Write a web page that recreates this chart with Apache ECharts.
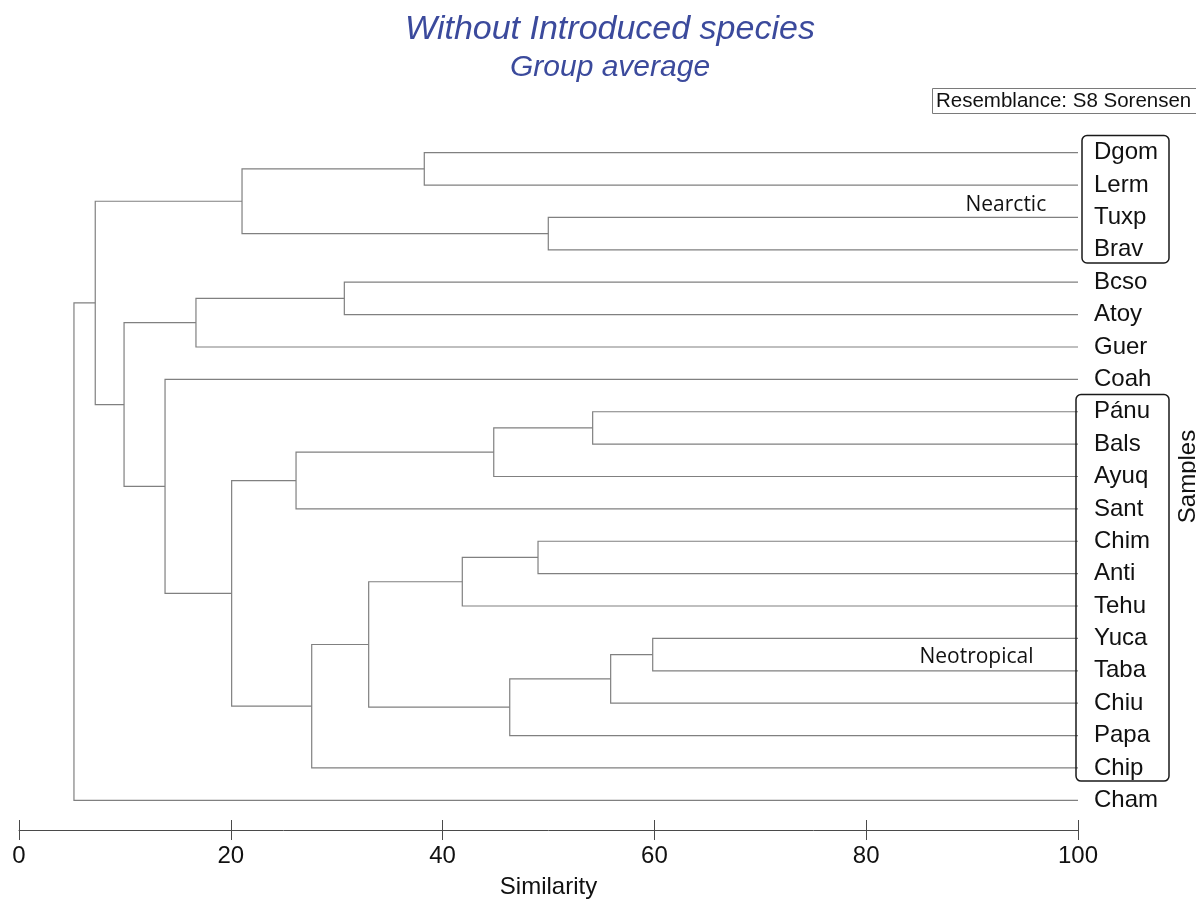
<!DOCTYPE html>
<html>
<head>
<meta charset="utf-8">
<script src="https://cdn.jsdelivr.net/npm/echarts@6/dist/echarts.min.js"></script>
<style>
html,body{margin:0;padding:0;background:#fff;}
#chart{width:1196px;height:900px;}
</style>
</head>
<body>
<div id="chart"></div>
<script>
// ---- data ----
const leaves = ['Dgom','Lerm','Tuxp','Brav','Bcso','Atoy','Guer','Coah','Pánu','Bals','Ayuq','Sant','Chim','Anti','Tehu','Yuca','Taba','Chiu','Papa','Chip','Cham'];
// merges: child A, child B ("m<i>" refers to an earlier merge), similarity at merge
const mergeA   = ['Dgom','Tuxp','m0','Bcso','m3','Pánu','m5','m6','Chim','m8','Yuca','m10','m11','m9','m13','m7','Coah','m4','m2','m18'];
const mergeB   = ['Lerm','Brav','m1','Atoy','Guer','Bals','Ayuq','Sant','Anti','Tehu','Taba','Chiu','Papa','m12','Chip','m14','m15','m16','m17','Cham'];
const mergeSim = [38.27, 49.98, 21.06, 30.72, 16.71, 54.17, 44.83, 26.16, 49.01, 41.86, 59.84, 55.87, 46.34, 33.02, 27.64, 20.08, 13.79, 9.92, 7.20, 5.19];
const xTicks = [0, 20, 40, 60, 80, 100];
const groupNames = ['Nearctic', 'Neotropical'];
const groupFrom = ['Dgom', 'Pánu'];
const groupTo   = ['Brav', 'Chip'];

// ---- styles (not data) ----
const groupStyle = [
  {boxDx: 4, labelX: 97.0, labelRow: 1.5, labelDy: 4},
  {boxDx: -2, labelX: 95.8, labelRow: 15.5, labelDy: 2}
];
const LINE = '#808080';
const AXIS = '#4a4a4a';
const FONT = '"Liberation Sans", Arial, sans-serif';

// ---- layout of tree from data ----
const nodePos = {};
leaves.forEach((n, i) => { nodePos[n] = {h: 100, y: i}; });
const segData = [];
mergeSim.forEach((s, i) => {
  const a = nodePos[mergeA[i]], b = nodePos[mergeB[i]];
  nodePos['m' + i] = {h: s, y: (a.y + b.y) / 2};
  segData.push([a.h, a.y, s, b.y, b.h]);
});
const groupData = groupNames.map((g, i) => [leaves.indexOf(groupFrom[i]), leaves.indexOf(groupTo[i]), i]);

const chart = echarts.init(document.getElementById('chart'));
const xAxisBase = {
  type: 'value', min: 0, max: 100, interval: 20,
  splitLine: {show: false}
};
chart.setOption({
  animation: false,
  title: [{
    text: 'Without Introduced species',
    subtext: 'Group average',
    left: 605, top: 8, textAlign: 'center', itemGap: 6,
    textStyle: {fontFamily: FONT, fontStyle: 'italic', fontWeight: 'normal', fontSize: 34, color: '#3b4a9c'},
    subtextStyle: {fontFamily: FONT, fontStyle: 'italic', fontWeight: 'normal', fontSize: 30, color: '#3b4a9c'}
  }, {
    text: 'Resemblance: S8 Sorensen',
    left: 932, top: 88,
    padding: [3, 14, 2, 4],
    borderColor: '#7a7a7a', borderWidth: 1,
    textStyle: {fontFamily: FONT, fontWeight: 'normal', fontSize: 20.5, color: '#111'}
  }],
  grid: [
    {left: 19, right: 118, top: 136.5, bottom: 83.5, outerBoundsMode: 'none', containLabel: false},
    {left: 19, right: 118, top: 136.5, bottom: 70, outerBoundsMode: 'none', containLabel: false}
  ],
  xAxis: [
    Object.assign({}, xAxisBase, {
      gridIndex: 0, position: 'bottom', offset: 13.5,
      axisLine: {show: true, onZero: false, lineStyle: {color: AXIS, width: 1}},
      axisTick: {show: true, length: 10, lineStyle: {color: AXIS, width: 1}},
      axisLabel: {show: true, margin: 14, fontFamily: FONT, fontSize: 24, color: '#111',
        formatter: v => xTicks.indexOf(v) >= 0 ? String(v) : ''},
      name: 'Similarity', nameLocation: 'middle', nameGap: 45,
      nameTextStyle: {fontFamily: FONT, fontSize: 24, color: '#111'}
    }),
    Object.assign({}, xAxisBase, {
      gridIndex: 1, position: 'bottom',
      axisLine: {show: false, onZero: false},
      axisTick: {show: true, inside: true, length: 10, lineStyle: {color: AXIS, width: 1}},
      axisLabel: {show: false}
    })
  ],
  yAxis: [{
    gridIndex: 0, type: 'value', min: -0.5, max: leaves.length - 0.5, inverse: true, show: false
  }, {
    gridIndex: 0, type: 'category', data: leaves, inverse: true, position: 'right',
    axisLine: {show: false}, axisTick: {show: false},
    axisLabel: {margin: 16, fontFamily: FONT, fontSize: 24, color: '#111'},
    name: 'Samples', nameLocation: 'middle', nameRotate: 90, nameGap: 98,
    nameTextStyle: {fontFamily: FONT, fontSize: 24, color: '#111'}
  }, {
    gridIndex: 1, type: 'value', show: false
  }],
  series: [{
    type: 'custom',
    xAxisIndex: 0, yAxisIndex: 0,
    data: segData,
    encode: {x: [0, 2, 4], y: [1, 3]},
    renderItem: function (params, api) {
      const p = [
        api.coord([api.value(0), api.value(1)]),
        api.coord([api.value(2), api.value(1)]),
        api.coord([api.value(2), api.value(3)]),
        api.coord([api.value(4), api.value(3)])
      ];
      return {type: 'polyline', shape: {points: p}, style: {stroke: LINE, lineWidth: 1.2, fill: null}};
    }
  }, {
    type: 'custom',
    xAxisIndex: 0, yAxisIndex: 0,
    data: groupData,
    encode: {y: [0, 1]},
    z: 3,
    renderItem: function (params, api) {
      const i = api.value(2);
      const st = groupStyle[i];
      const tl = api.coord([100, api.value(0) - 0.5]);
      const br = api.coord([100, api.value(1) + 0.5]);
      const x0 = tl[0] + st.boxDx;
      const lab = api.coord([st.labelX, st.labelRow]);
      return {type: 'group', children: [{
        type: 'rect',
        shape: {x: x0, y: tl[1] - 1, width: 1169 - x0, height: br[1] - tl[1] - 2, r: 5},
        style: {stroke: '#1a1a1a', lineWidth: 1.5, fill: null}
      }, {
        type: 'text',
        style: {text: groupNames[i], x: lab[0], y: lab[1] + st.labelDy, align: 'right', verticalAlign: 'middle',
          font: '21px "Open Sans", "Noto Sans", sans-serif', fill: '#111'}
      }]};
    }
  }]
});
</script>
</body>
</html>
